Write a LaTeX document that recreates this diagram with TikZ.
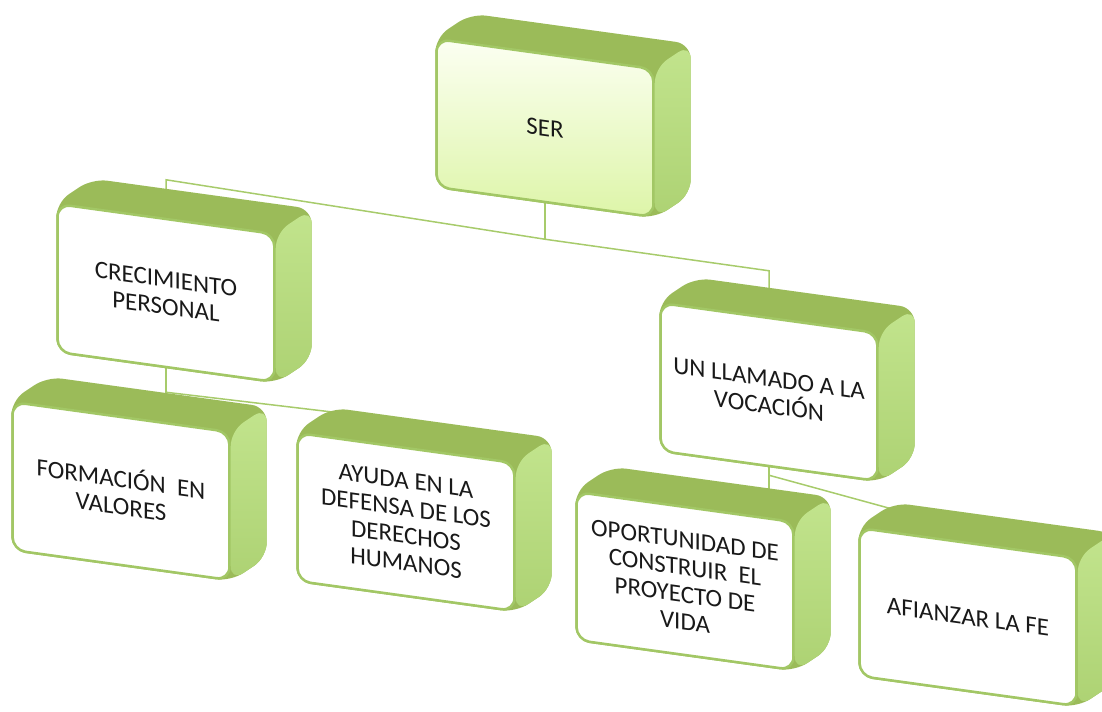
\documentclass[tikz,border=0pt]{standalone}
\usepackage{fontspec}
\setmainfont{Carlito}
\usetikzlibrary{calc, backgrounds}
\definecolor{boxtop}{HTML}{9BBB59}
\definecolor{boxside}{HTML}{ADD273}
\definecolor{boxsidehi}{HTML}{C2E48D}
\definecolor{boxline}{HTML}{A2C765}
\definecolor{serhi}{HTML}{FCFFF2}
\definecolor{serlo}{HTML}{DDF5A8}
\definecolor{conline}{HTML}{A7CB6B}
\pgfdeclarelayer{back}
\pgfsetlayers{back,background,main}
\tikzset{%
	front/.style={draw=boxline, line width=0.05cm, fill=white, rectangle, rounded corners=0.26cm,%
		minimum width=4.34cm, minimum height=2.96cm, inner sep=0mm, yslant=-0.138, align=center,%
		text=black!90, font=\fontsize{14.2}{15.6}\selectfont},
	lit/.style={top color=serhi, bottom color=serlo},
	con/.style={draw=conline, line width=0.03cm},
	ext/.style={fill=boxtop, rounded corners=0.3cm},
	side/.style={top color=boxsidehi, bottom color=boxside, rounded corners=0.3cm}
}
\newcommand{\extrude}[1]{%
	\begin{scope}[on background layer]
		\path[ext] (#1.south west) -- (#1.north west) -- ($(#1.north west)+(36,-24)$)
			-- ($(#1.north east)+(36,-24)$) -- ($(#1.south east)+(36,-24)$) -- (#1.south east) -- cycle;
		\path[side] (#1.north east) -- ($(#1.north east)+(36,-24)$)
			-- ($(#1.south east)+(36,-24)$) -- (#1.south east) -- cycle;
	\end{scope}}
\begin{document}
\begin{tikzpicture}[x=0.02cm, y=-0.02cm]
	\useasboundingbox (0,0) rectangle (1102,711);
	\node[front, lit] (ser) at (545,128) {SER};
	\node[front] (crec) at (166,293) {CRECIMIENTO\\PERSONAL};
	\node[front] (form) at (121,491) {FORMACIÓN\ \ EN\\VALORES};
	\node[front] (ayuda) at (406,522) {AYUDA EN LA\\DEFENSA DE LOS\\DERECHOS\\HUMANOS};
	\node[front] (voc) at (769,392) {UN LLAMADO A LA\\VOCACIÓN};
	\node[front] (opor) at (685,581) {OPORTUNIDAD DE\\CONSTRUIR\ \ EL\\PROYECTO DE\\VIDA};
	\node[front] (afi) at (968,617) {AFIANZAR LA FE};
	\foreach \b in {ser, crec, form, ayuda, voc, opor, afi} {\extrude{\b}}

	\begin{pgfonlayer}{back}
		\coordinate (serjoint) at ($(ser.south)+(0,36)$);
		\coordinate (jl) at ($(crec.north)+(0,-38)$);
		\coordinate (jr) at ($(voc.north)+(0,-46)$);
		\coordinate (crecjoint) at ($(crec.south)+(0,24)$);
		\coordinate (vocjoint) at ($(voc.south)+(0,8)$);
		\draw[con] (ser.south) -- (serjoint);
		\draw[con] (crec.north) -- (jl) -- (serjoint) -- (jr) -- (voc.north);
		\draw[con] (crec.south) -- (crec.south |- form.north);
		\draw[con] (crecjoint) -- ($(ayuda.north)+(0,-26)$);
		\draw[con] (voc.south) -- (voc.south |- opor.north);
		\draw[con] (vocjoint) -- ($(afi.north)+(0,-12)$);
	\end{pgfonlayer}
\end{tikzpicture}
\end{document}
